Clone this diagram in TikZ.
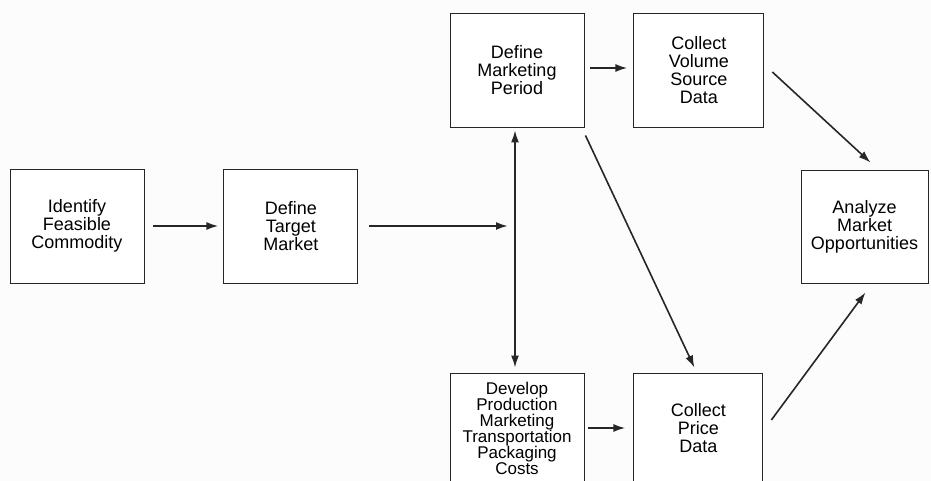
\documentclass[tikz,border=0pt]{standalone}
\usepackage{fontspec}
\setmainfont{Liberation Sans}
\usetikzlibrary{arrows.meta, positioning}

\begin{document}
\begin{tikzpicture}[
    x=1pt, y=-1pt,
    node distance=79pt,
    % plain boxes
    procbox/.style={rectangle, draw=black!85, line width=0.9pt, fill=white,
        minimum width=134pt, minimum height=114pt, inner sep=0pt, align=center,
        font=\fontsize{18}{18}\selectfont},
    arrow/.style={-{Latex[length=12pt, width=8pt]}, line width=2pt, draw=black!85},
    thinarrow/.style={-{Latex[length=12pt, width=8pt]}, line width=1.6pt, draw=black!85},
]

\fill[black!1] (0,0) rectangle (931,481);
\useasboundingbox (0,0) rectangle (931,481);

% ============ Left column ============
\node[procbox] (commodity) at (77,226) {Identify\\Feasible\\Commodity};
\node[procbox, right=of commodity] (target) {Define\\Target\\Market};

% ============ Middle columns ============
\node[procbox] (period) at (517,70) {Define\\Marketing\\Period};
\node[procbox, minimum width=130pt, right=49pt of period] (volume) {Collect\\Volume\\Source\\Data};

\node[procbox, minimum height=110pt, font=\fontsize{17}{16}\selectfont] (costs) at (517,428)
    {Develop\\Production\\Marketing\\Transportation\\Packaging\\Costs};
\node[procbox, minimum width=129pt, minimum height=110pt, right=49pt of costs] (price) {Collect\\Price\\Data};

% ============ Right ============
\node[procbox, minimum width=127pt, minimum height=113pt] (analyze) at (864.5,226.5) {Analyze\\Market\\Opportunities};

\coordinate (split) at (515,226);

% ============ Arrows ============
\draw[arrow, shorten <=9pt, shorten >=5pt] (commodity) -- (target);
\draw[arrow, shorten <=11pt, shorten >=7pt] (target) -- (split);
\draw[{Latex[length=12pt, width=8pt]}-{Latex[length=12pt, width=8pt]}, line width=1.6pt, draw=black!85,
    shorten <=3pt, shorten >=5pt] ([xshift=-2pt]period.south) -- ([xshift=-2pt]costs.north);
\draw[arrow, shorten <=6pt, shorten >=6pt] ([yshift=2pt]period.east) -- ([yshift=2pt]volume.west);
\draw[arrow, shorten <=4pt, shorten >=8pt] (costs) -- (price);

\draw[thinarrow] ([shift={(1,8)}]period.south east) -- ([shift={(-4,-5)}]price.north);
\draw[thinarrow] ([shift={(8,2)}]volume.east) -- ([shift={(6,-7)}]analyze.north);
\draw[thinarrow] ([shift={(8,-8)}]price.east) -- ([shift={(1,9)}]analyze.south);

\end{tikzpicture}
\end{document}
